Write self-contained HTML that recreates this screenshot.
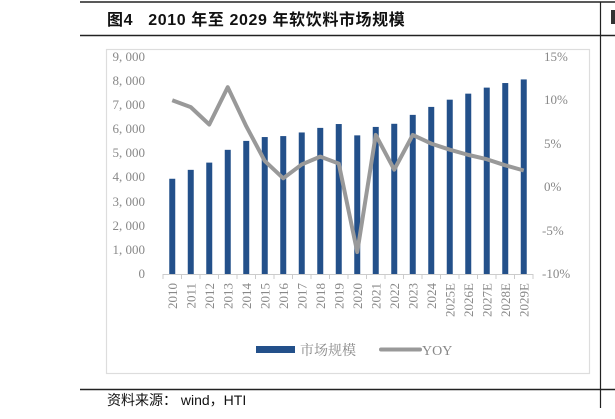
<!DOCTYPE html>
<html><head><meta charset="utf-8"><style>
body{margin:0;width:615px;height:419px;background:#fff;overflow:hidden;position:relative}
</style></head><body>
<svg width="615" height="419" xmlns="http://www.w3.org/2000/svg" style="position:absolute;left:0;top:0">
<line x1="80" y1="2" x2="615" y2="2" stroke="#222" stroke-width="1.5"/>
<line x1="80" y1="35.5" x2="615" y2="35.5" stroke="#222" stroke-width="1.5"/>
<line x1="80" y1="389.5" x2="615" y2="389.5" stroke="#222" stroke-width="1.5"/>
<line x1="600.5" y1="2" x2="600.5" y2="408" stroke="#222" stroke-width="1.2"/>
<text x="107" y="25" font-family="'Liberation Sans','Noto Sans CJK SC',sans-serif" font-size="16" font-weight="bold" fill="#111" letter-spacing="0.6" style="white-space:pre">图4   2010 年至 2029 年软饮料市场规模</text>
<rect x="611" y="10" width="4" height="14" fill="#333"/>
<rect x="106.5" y="49.5" width="483" height="324" fill="none" stroke="#ddd" stroke-width="1.2"/>
<g font-family="'Liberation Serif','Noto Serif CJK SC',serif" font-size="13" fill="#888">
<text x="145" y="61" text-anchor="end">9, 000</text>
<text x="145" y="85" text-anchor="end">8, 000</text>
<text x="145" y="109" text-anchor="end">7, 000</text>
<text x="145" y="133" text-anchor="end">6, 000</text>
<text x="145" y="157" text-anchor="end">5, 000</text>
<text x="145" y="181" text-anchor="end">4, 000</text>
<text x="145" y="206" text-anchor="end">3, 000</text>
<text x="145" y="230" text-anchor="end">2, 000</text>
<text x="145" y="254" text-anchor="end">1, 000</text>
<text x="145" y="278" text-anchor="end">0</text>
<text x="544" y="61">15%</text>
<text x="544" y="104">10%</text>
<text x="544" y="148">5%</text>
<text x="544" y="191">0%</text>
<text x="542" y="235">-5%</text>
<text x="542" y="278">-10%</text>
</g>
<g id="bars" fill="#23508a"></g>
<line x1="163" y1="274.5" x2="533" y2="274.5" stroke="#ccc"/>
<g id="ticks" stroke="#ccc"></g>
<g id="labels" font-family="'Liberation Serif',serif" font-size="13" fill="#888"></g>
<polyline id="yoy" fill="none" stroke="#999" stroke-width="4" stroke-linejoin="round"/>
<rect x="256" y="346" width="39" height="7" fill="#23508a"/>
<text x="300" y="355" font-family="'Liberation Serif','Noto Serif CJK SC',serif" font-size="14" fill="#888">市场规模</text>
<line x1="381" y1="349.5" x2="420" y2="349.5" stroke="#999" stroke-width="4" stroke-linecap="round"/>
<text x="422" y="355" font-family="'Liberation Serif',serif" font-size="14" fill="#888">YOY</text>
<text x="107" y="405" font-family="'Liberation Sans','Noto Sans CJK SC',sans-serif" font-size="14" fill="#111" style="white-space:pre">资料来源： wind，HTI</text>
</svg>
<script>
var v=[3950,4320,4620,5150,5520,5680,5720,5870,6060,6220,5750,6100,6230,6600,6930,7230,7480,7730,7920,8070];
var y=[10,9.2,7.2,11.5,7,3,1,2.6,3.5,2.7,-7.5,6,2,6,5,4.3,3.7,3.2,2.5,1.9];
var lab=["2010","2011","2012","2013","2014","2015","2016","2017","2018","2019","2020","2021","2022","2023","2024","2025E","2026E","2027E","2028E","2029E"];
var ns="http://www.w3.org/2000/svg",b=document.getElementById("bars"),t=document.getElementById("ticks"),l=document.getElementById("labels"),pts=[];
var w=370/20;
for(var i=0;i<20;i++){var cx=163+w*(i+0.5);
var r=document.createElementNS(ns,"rect");var h=v[i]*217/9000;r.setAttribute("x",cx-3);r.setAttribute("y",274-h);r.setAttribute("width",6);r.setAttribute("height",h);b.appendChild(r);
var tk=document.createElementNS(ns,"line");var tx=163+w*i;tk.setAttribute("x1",tx);tk.setAttribute("x2",tx);tk.setAttribute("y1",274);tk.setAttribute("y2",279);t.appendChild(tk);
var tl=document.createElementNS(ns,"text");tl.setAttribute("transform","translate("+(cx+4.5)+",283) rotate(-90)");tl.setAttribute("text-anchor","end");tl.textContent=lab[i];l.appendChild(tl);
pts.push(cx+","+(187-y[i]*217/25));}
var tk=document.createElementNS(ns,"line");tk.setAttribute("x1",533);tk.setAttribute("x2",533);tk.setAttribute("y1",274);tk.setAttribute("y2",279);t.appendChild(tk);
document.getElementById("yoy").setAttribute("points",pts.join(" "));
</script>
</body></html>
